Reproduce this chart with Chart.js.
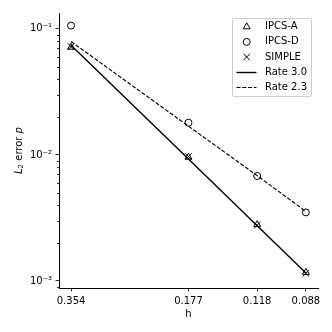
<!DOCTYPE html>
<html><head><meta charset="utf-8">
<script src="https://cdn.jsdelivr.net/npm/chart.js@4/dist/chart.umd.min.js"></script>
<style>html,body{margin:0;padding:0;background:#fff}#wrap{width:332px;height:332px}</style>
</head><body><div id="wrap"><canvas id="c" width="332" height="332"></canvas></div>
<script>
// ---- data ----
const h = [0.35355, 0.17678, 0.11785, 0.08839];
const hTickLabels = ['0.354', '0.177', '0.118', '0.088'];
const yMajorTicks = [0.001, 0.01, 0.1];
const yTickLabels = ['10\u207B\u00B3', '10\u207B\u00B2', '10\u207B\u00B9'];
const yMinorTicks = [0.0009, 0.002, 0.003, 0.004, 0.005, 0.006, 0.007, 0.008, 0.009,
                     0.02, 0.03, 0.04, 0.05, 0.06, 0.07, 0.08, 0.09];
const ipcsA  = [0.0715, 0.0096, 0.00280, 0.00117];
const ipcsD  = [0.106, 0.0180, 0.0068, 0.0035];
const simple = [0.0722, 0.0097, 0.00277, 0.00115];
const rate30 = [0.0741, 0.00926, 0.00274, 0.001158];
const rate23 = [0.0793, 0.0169, 0.00685, 0.00356];
const seriesLabels = ['IPCS-A', 'IPCS-D', 'SIMPLE', 'Rate 3.0', 'Rate 2.3'];

const pts = arr => arr.map((v, i) => ({x: h[i], y: v}));
const FONT = 'DejaVu Sans';
Chart.defaults.font.family = FONT;
Chart.defaults.font.size = 10;
Chart.defaults.color = '#000';

function drawMarker(ctx, style, r, x, y) {
  ctx.beginPath();
  if (style === 'triangle') {
    let a = 0;
    ctx.moveTo(x + Math.sin(a) * r, y - Math.cos(a) * r);
    a += 2 * Math.PI / 3; ctx.lineTo(x + Math.sin(a) * r, y - Math.cos(a) * r);
    a += 2 * Math.PI / 3; ctx.lineTo(x + Math.sin(a) * r, y - Math.cos(a) * r);
    ctx.closePath();
  } else if (style === 'circle') {
    ctx.arc(x, y, r, 0, Math.PI * 2);
  } else if (style === 'crossRot') {
    const o = Math.cos(Math.PI / 4) * r;
    ctx.moveTo(x - o, y - o); ctx.lineTo(x + o, y + o);
    ctx.moveTo(x - o, y + o); ctx.lineTo(x + o, y - o);
  }
  ctx.stroke();
}

const customPlugin = {
  id: 'custom',
  afterDraw(chart) {
    const ctx = chart.ctx;
    const ys = chart.scales.y;
    const ca = chart.chartArea;
    ctx.save();
    // minor y ticks
    ctx.strokeStyle = '#000';
    ctx.lineWidth = 0.8;
    ctx.beginPath();
    yMinorTicks.forEach(v => {
      const py = Math.round(ys.getPixelForValue(v)) + 0.5;
      ctx.moveTo(ca.left - 2, py); ctx.lineTo(ca.left, py);
    });
    ctx.stroke();

    // y axis title: L_2 error p
    ctx.translate(19, (ca.top + ca.bottom) / 2);
    ctx.rotate(-Math.PI / 2);
    ctx.fillStyle = '#000';
    ctx.textBaseline = 'middle';
    ctx.textAlign = 'left';
    const parts = [
      {t: 'L', f: 'italic 10px "' + FONT + '"', dy: 0},
      {t: '2', f: '7px "' + FONT + '"', dy: 2.5},
      {t: ' error ', f: '10px "' + FONT + '"', dy: 0},
      {t: 'p', f: 'italic 10px "' + FONT + '"', dy: 0}
    ];
    let w = 0;
    parts.forEach(p => { ctx.font = p.f; p.w = ctx.measureText(p.t).width; w += p.w; });
    let x = -w / 2;
    parts.forEach(p => { ctx.font = p.f; ctx.fillText(p.t, x, p.dy); x += p.w; });
    ctx.restore();

    // legend box
    ctx.save();
    const bx = 232.5, by = 18.5, bw = 79, bh = 78;
    const r = 2;
    ctx.beginPath();
    ctx.moveTo(bx + r, by);
    ctx.lineTo(bx + bw - r, by); ctx.quadraticCurveTo(bx + bw, by, bx + bw, by + r);
    ctx.lineTo(bx + bw, by + bh - r); ctx.quadraticCurveTo(bx + bw, by + bh, bx + bw - r, by + bh);
    ctx.lineTo(bx + r, by + bh); ctx.quadraticCurveTo(bx, by + bh, bx, by + bh - r);
    ctx.lineTo(bx, by + r); ctx.quadraticCurveTo(bx, by, bx + r, by);
    ctx.closePath();
    ctx.fillStyle = 'rgba(255,255,255,0.8)';
    ctx.fill();
    ctx.strokeStyle = '#cccccc';
    ctx.lineWidth = 1;
    ctx.stroke();

    ctx.font = '10px "' + FONT + '"';
    ctx.textBaseline = 'middle';
    ctx.textAlign = 'left';
    chart.data.datasets.forEach((ds, i) => {
      const cy = 26.8 + 15.1 * i;
      ctx.strokeStyle = '#000';
      ctx.lineWidth = 1;
      if (ds.pointRadius > 0) {
        drawMarker(ctx, ds.pointStyle, ds.pointRadius, 246.7, cy);
      } else {
        ctx.lineWidth = ds.borderWidth;
        ctx.setLineDash(ds.borderDash || []);
        ctx.beginPath();
        ctx.moveTo(236.5, Math.round(cy) + 0.5); ctx.lineTo(256.5, Math.round(cy) + 0.5);
        ctx.stroke();
        ctx.setLineDash([]);
      }
      ctx.fillStyle = '#000';
      ctx.fillText(ds.label, 265, cy);
    });
    ctx.restore();
  }
};

const markerDs = (label, data, style, r) => ({
  label, data: pts(data), showLine: false,
  pointStyle: style, pointRadius: r, pointHoverRadius: r,
  pointBorderColor: '#000', pointBackgroundColor: 'rgba(0,0,0,0)', pointBorderWidth: 1
});
const lineDs = (label, data, dash, width) => ({
  label, data: pts(data), showLine: true, pointRadius: 0, pointHoverRadius: 0,
  borderColor: '#000', borderWidth: width, borderDash: dash, fill: false, tension: 0
});

new Chart(document.getElementById('c'), {
  type: 'scatter',
  data: {
    datasets: [
      markerDs(seriesLabels[0], ipcsA, 'triangle', 4),
      markerDs(seriesLabels[1], ipcsD, 'circle', 3.5),
      markerDs(seriesLabels[2], simple, 'crossRot', 4.6),
      lineDs(seriesLabels[3], rate30, [], 1.4),
      lineDs(seriesLabels[4], rate23, [4, 1.8], 1.15)
    ]
  },
  options: {
    responsive: false,
    animation: false,
    events: [],
    layout: {padding: {top: 13, right: 14, left: 0, bottom: 0}},
    plugins: {legend: {display: false}, tooltip: {enabled: false}},
    scales: {
      x: {
        type: 'logarithmic', reverse: true, min: 0.0823, max: 0.3796,
        afterBuildTicks: s => { s.ticks = h.map(v => ({value: v})); },
        afterFit: s => { s.height = 44; },
        ticks: {
          autoSkip: false, maxRotation: 0, padding: 3.5, color: '#000',
          font: {size: 10, family: FONT},
          callback: (v, i) => hTickLabels[i]
        },
        grid: {drawOnChartArea: false, drawTicks: true, tickLength: 3.5, tickColor: '#000', tickWidth: 0.8},
        border: {display: true, color: '#000', width: 1},
        title: {display: true, text: 'h', color: '#000', font: {size: 10, family: FONT}, padding: {top: 0, bottom: 12}}
      },
      y: {
        type: 'logarithmic', min: 0.00088, max: 0.1335,
        afterBuildTicks: s => { s.ticks = yMajorTicks.map(v => ({value: v})); },
        afterFit: s => { s.width = 59; },
        ticks: {
          autoSkip: false, padding: 3.5, color: '#000',
          font: {size: 10, family: FONT},
          callback: (v, i) => yTickLabels[i]
        },
        grid: {drawOnChartArea: false, drawTicks: true, tickLength: 3.5, tickColor: '#000', tickWidth: 0.8},
        border: {display: true, color: '#000', width: 1},
        title: {display: false}
      }
    }
  },
  plugins: [customPlugin]
});
</script>
</body></html>
